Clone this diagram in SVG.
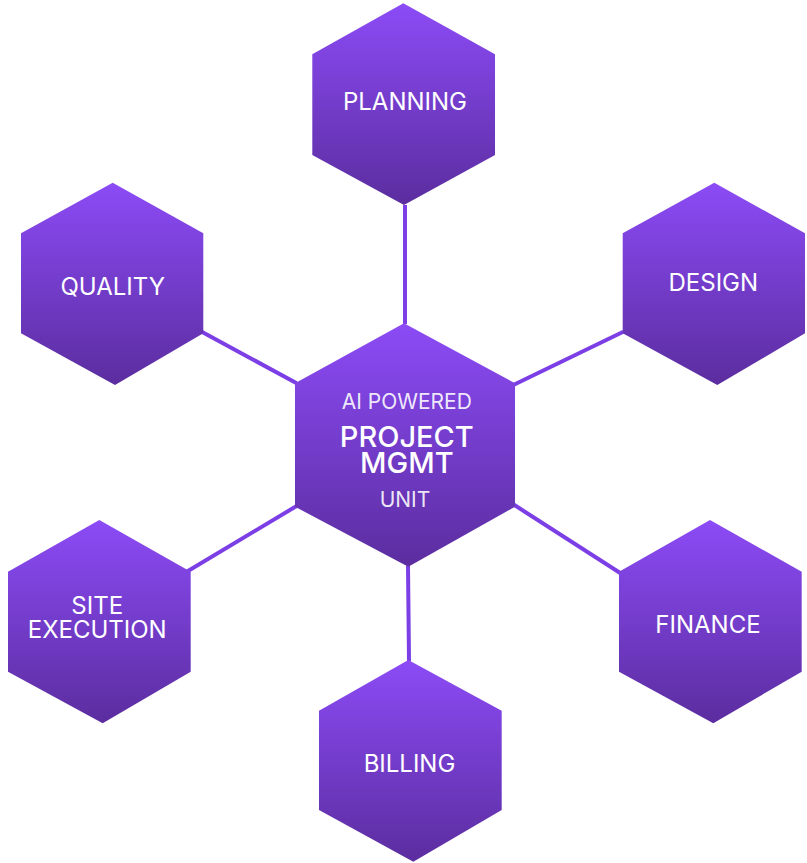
<svg xmlns="http://www.w3.org/2000/svg" width="807" height="863" viewBox="0 0 807 863">
<defs>
<linearGradient id="hexGrad" x1="0" y1="0" x2="0" y2="1">
<stop offset="0" stop-color="#8c4bf6"/>
<stop offset="1" stop-color="#5b2d9f"/>
</linearGradient>
<style>
.hex{fill:url(#hexGrad);}
.conn{stroke:#7c3fe6;stroke-width:4;fill:none;stroke-linecap:butt;}
.lbl{font-family:Inter,"Liberation Sans",sans-serif;font-size:24px;fill:#ffffff;text-anchor:middle;}
.sub{font-family:Inter,"Liberation Sans",sans-serif;font-size:21px;fill:#ffffff;fill-opacity:0.9;text-anchor:middle;}
.main{font-family:Inter,"Liberation Sans",sans-serif;font-size:29px;font-weight:500;fill:#ffffff;text-anchor:middle;}
</style>
</defs>
<rect width="807" height="863" fill="#ffffff"/>
<g id="connectors">
<line class="conn" x1="405" y1="205" x2="405" y2="324"/>
<line class="conn" x1="201.7" y1="331.7" x2="296.7" y2="383.3"/>
<line class="conn" x1="513.3" y1="385" x2="623.3" y2="331.7"/>
<line class="conn" x1="186.7" y1="571.7" x2="298.3" y2="505"/>
<line class="conn" x1="511.7" y1="503.3" x2="623.3" y2="575"/>
<line class="conn" x1="408" y1="566" x2="409" y2="661"/>
</g>
<g id="planning">
<polygon class="hex" points="403.3,3.3 495,54.3 495,155 404,205 312.3,155 312.3,54.3"/>
<text class="lbl" x="405" y="110">PLANNING</text>
</g>
<g id="quality">
<polygon class="hex" points="112.7,182.7 203.3,233.3 203.3,333.3 115,385 21,333.3 21,233.3"/>
<text class="lbl" x="112.8" y="295">QUALITY</text>
</g>
<g id="design">
<polygon class="hex" points="714.3,182.7 805,233.3 805,333.3 717.3,385 622.7,333.3 622.7,233.3"/>
<text class="lbl" x="713.3" y="290.7">DESIGN</text>
</g>
<g id="site-execution">
<polygon class="hex" points="99.3,520 190.7,571.7 190.7,671.7 102.7,723.3 8,671.7 8,571.7"/>
<text class="lbl" x="97.2" y="614">SITE</text>
<text class="lbl" x="97.2" y="638.3">EXECUTION</text>
</g>
<g id="finance">
<polygon class="hex" points="710,520 801.7,571.7 801.7,671.7 713.3,723.3 619,671.7 619,571.7"/>
<text class="lbl" x="708" y="632.7">FINANCE</text>
</g>
<g id="billing">
<polygon class="hex" points="408.3,660 501.7,710.7 501.7,810 413.3,861.7 319,810 319,710.7"/>
<text class="lbl" x="409.5" y="771.7">BILLING</text>
</g>
<g id="center">
<polygon class="hex" points="404,323.3 515,383.3 515,506.7 408.3,566.7 295,506.7 295,383.3"/>
<text class="sub" x="406.8" y="409">AI POWERED</text>
<text class="main" x="406.8" y="446.7">PROJECT</text>
<text class="main" x="406.8" y="473.3">MGMT</text>
<text class="sub" x="405" y="506.7">UNIT</text>
</g>
</svg>
